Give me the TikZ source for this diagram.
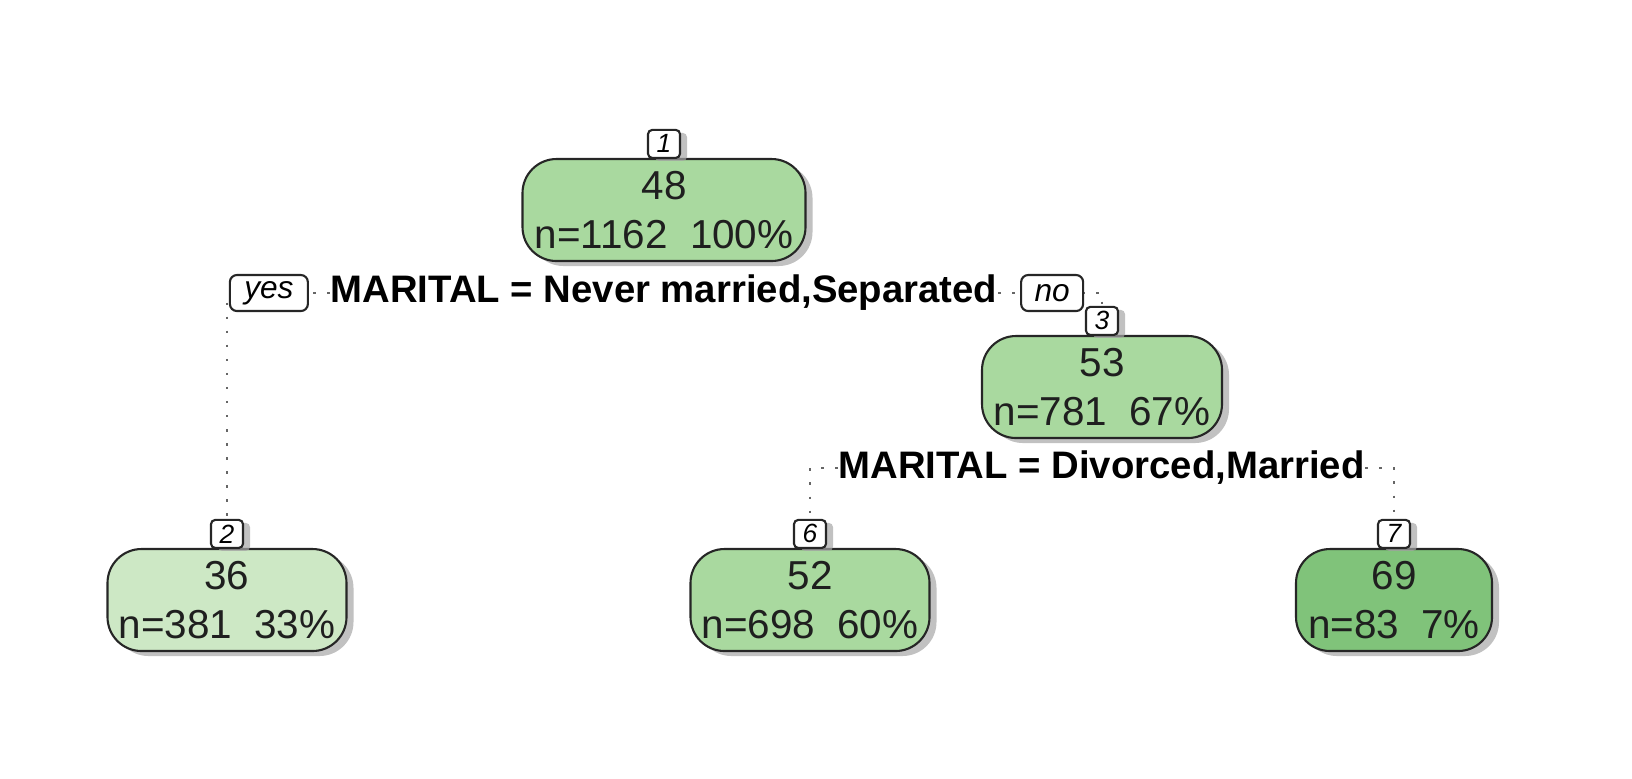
\documentclass[tikz,border=0pt]{standalone}
\usepackage{fontspec}
\setmainfont{Liberation Sans}
\usetikzlibrary{positioning, shadows, backgrounds}
\tikzstyle{fitnode} =[draw=black!85, line width=0.6pt, rounded corners=0.34cm, align=center, minimum height=1.02cm, inner sep=0pt, text=black!88, font=\fontsize{11.5}{14}\selectfont, drop shadow={shadow xshift=0.07cm, shadow yshift=-0.05cm, fill=black!35, opacity=0.7}]
\tikzstyle{nodenum} =[draw=black!85, fill=white, line width=0.6pt, rounded corners=1.2pt, minimum width=0.32cm, minimum height=0.28cm, inner sep=0pt, font=\fontsize{7.5}{8}\selectfont\itshape, drop shadow={shadow xshift=0.07cm, shadow yshift=-0.03cm, fill=black!35, opacity=0.7}]
\tikzstyle{splittext} =[inner sep=0pt, font=\fontsize{10.9}{13}\selectfont\bfseries]
\tikzstyle{yesno} =[draw=black!85, fill=white, line width=0.6pt, rounded corners=2pt, minimum height=0.36cm, inner sep=0pt, font=\fontsize{9}{10}\selectfont\itshape]
\tikzstyle{dotline} =[black!60, line width=0.8pt, dash pattern=on 0.7pt off 3.3pt]
\definecolor{greenLight}{HTML}{CDE8C5}
\definecolor{greenMid}{HTML}{A9D99F}
\definecolor{greenDark}{HTML}{80C37A}

\begin{document}
\begin{tikzpicture}
\useasboundingbox (0,0) rectangle (16.32,-7.78);

\node (rootNode) [fitnode, fill=greenMid, minimum width=2.83cm] at (6.64,-2.10) {48\\n=1162\ \ 100\%};
\node (rootNum) [nodenum, above=-0.01cm] at (rootNode.north) {1};

\node (splitOne) [splittext] at (6.64,-2.93) {MARITAL = Never married,Separated};
\node (yesLabel) [yesno, minimum width=0.78cm, left=0.21cm of splitOne] {yes};
\node (noLabel) [yesno, minimum width=0.62cm, right=0.22cm of splitOne] {no};

\node (nodeThree) [fitnode, fill=greenMid, minimum width=2.40cm] at (11.02,-3.87) {53\\n=781\ \ 67\%};
\node (nodeThreeNum) [nodenum, above=-0.01cm] at (nodeThree.north) {3};

\node (splitTwo) [splittext] at (11.015,-4.68) {MARITAL = Divorced,Married};

\node (leafTwo) [fitnode, fill=greenLight, minimum width=2.39cm] at (2.27,-6.00) {36\\n=381\ \ 33\%};
\node (leafTwoNum) [nodenum, above=-0.01cm] at (leafTwo.north) {2};

\node (leafSix) [fitnode, fill=greenMid, minimum width=2.39cm] at (8.10,-6.00) {52\\n=698\ \ 60\%};
\node (leafSixNum) [nodenum, above=-0.01cm] at (leafSix.north) {6};

\node (leafSeven) [fitnode, fill=greenDark, minimum width=1.96cm] at (13.94,-6.00) {69\\n=83\ \ 7\%};
\node (leafSevenNum) [nodenum, above=-0.01cm] at (leafSeven.north) {7};

\begin{scope}[on background layer]
\draw[dotline] (splitOne.west) -| (leafTwoNum.north);
\draw[dotline] (splitOne.east) -| (nodeThreeNum.north);
\draw[dotline] (splitTwo.west) -| (leafSixNum.north);
\draw[dotline] (splitTwo.east) -| (leafSevenNum.north);
\end{scope}
\end{tikzpicture}
\end{document}
